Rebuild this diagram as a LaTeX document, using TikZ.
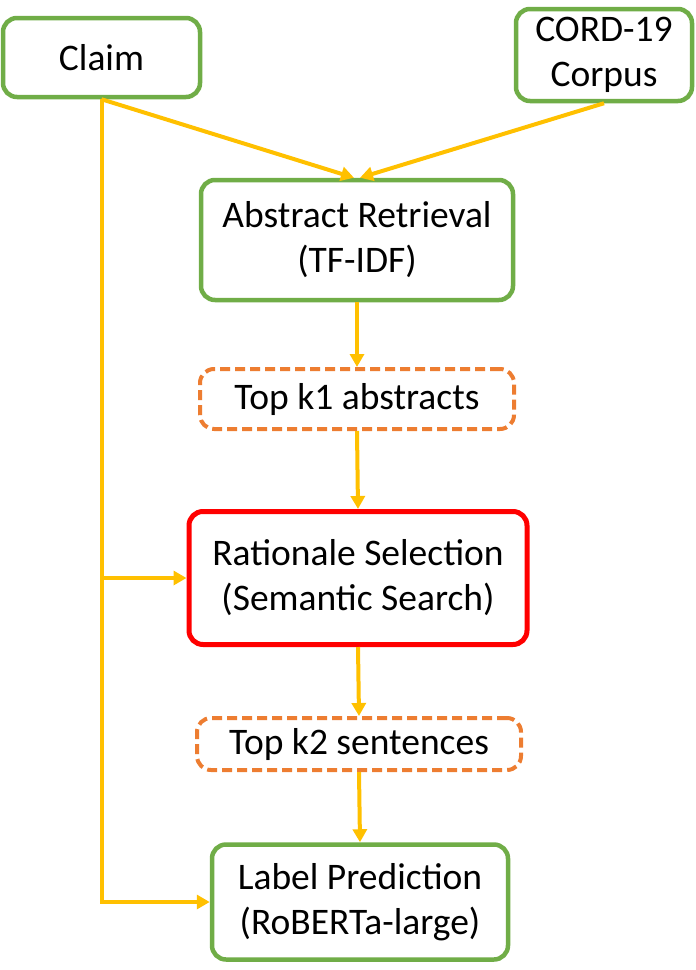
\documentclass[tikz,border=0pt]{standalone}
\usepackage{fontspec}
\setmainfont{Carlito}
\usetikzlibrary{arrows.meta}

\definecolor{stagegreen}{HTML}{70AD47}
\definecolor{outorange}{HTML}{ED7D31}
\definecolor{flowyellow}{HTML}{FFC000}

\tikzset{
    box/.style={rounded corners=14pt, fill=white, align=center, inner sep=0pt,
        font=\fontsize{37.5}{45}\selectfont},
    stage/.style={box, draw=stagegreen, line width=4.5pt},
    keystage/.style={box, draw=red, line width=5pt},
    result/.style={box, draw=outorange, line width=4pt, dash pattern=on 10pt off 5pt},
    flow/.style={draw=flowyellow, line width=4pt,
        -{Triangle[length=13pt,width=14pt]}}
}

\begin{document}
\begin{tikzpicture}[x=1pt,y=-1pt]
            \useasboundingbox (0,0) rectangle (696,970);
            \node[stage, minimum width=197pt, minimum height=79pt] (claim) at (101.5,57.5) {Claim};
            \node[stage, minimum width=176pt, minimum height=92pt] (cord) at (604,55) {CORD-19\\Corpus};
            \node[stage, minimum width=312pt, minimum height=120pt] (retr) at (357,240) {Abstract Retrieval\\(TF-IDF)};
            \node[result, minimum width=314pt, minimum height=60pt] (topa) at (357,399) {Top k1 abstracts};
            \node[keystage, minimum width=338pt, minimum height=133pt] (rat) at (358,578) {Rationale Selection\\(Semantic Search)};
            \node[result, minimum width=324pt, minimum height=52pt] (tops) at (359,744) {Top k2 sentences};
            \node[stage, minimum width=296pt, minimum height=115pt] (pred) at (360,902) {Label Prediction\\(RoBERTa-large)};

            \coordinate (inleft) at ([xshift=-3pt]retr.north);
            \coordinate (inright) at ([xshift=3pt]retr.north);
            \draw[flow] (claim.south) -- (inleft);
            \draw[flow] (cord.south) -- (inright);
            \draw[flow] (retr.south) -- (topa.north);
            \draw[flow] (topa.south) -- (rat.north);
            \draw[flow] (rat.south) -- (tops.north);
            \draw[flow] (tops.south) -- (pred.north);
            \draw[flow] (claim.south) |- (rat.west);
            \draw[flow] (claim.south) |- (pred.west);
        \end{tikzpicture}
\end{document}
